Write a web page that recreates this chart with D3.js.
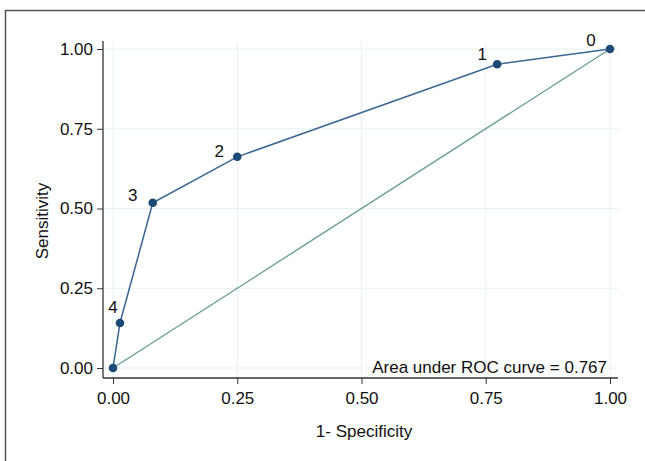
<!DOCTYPE html>
<html>
<head>
<meta charset="utf-8">
<script src="https://cdn.jsdelivr.net/npm/d3@7"></script>
<style>
  body { margin: 0; background: #fff; }
  text { font-family: "Liberation Sans", Arial, Helvetica, sans-serif; fill: #111; }
</style>
</head>
<body>
<div id="chart"></div>
<script>
// ROC curve points (cutpoint labels, 1-specificity, sensitivity)
const cutLabels = ["0", "1", "2", "3", "4", ""];
const fpr = [1.0, 0.773, 0.250, 0.080, 0.014, 0.0];
const tpr = [1.0, 0.952, 0.662, 0.518, 0.141, 0.0];
const tickValues = [0, 0.25, 0.5, 0.75, 1.0];
const aucText = "Area under ROC curve = 0.767";

const width = 645, height = 461;
const fontSize = "17px";
// label offsets (mostly 11 o'clock, label 4 sits above its point)
const labelOffsets = [[-19, -9], [-15, -10], [-18, -6], [-20, -8], [-7, -16], [0, 0]];

let svg = d3.select("#chart").append("svg")
  .attr("width", width)
  .attr("height", height);

// Outer frame
svg.append("path")
  .attr("d", "M5.5," + height + " V10.5 H" + width)
  .attr("fill", "none")
  .attr("stroke", "#555")
  .attr("stroke-width", 1.5);

let xScale = d3.scaleLinear().domain([0, 1]).range([113, 610]);
let yScale = d3.scaleLinear().domain([0, 1]).range([368, 49]);

// Grid lines
svg.append("g").selectAll("line.h")
  .data(tickValues).join("line")
  .attr("x1", 103).attr("x2", 618)
  .attr("y1", d => yScale(d)).attr("y2", d => yScale(d))
  .attr("stroke", "#e6f0f3").attr("stroke-width", 1);
svg.append("g").selectAll("line.v")
  .data(tickValues).join("line")
  .attr("x1", d => xScale(d)).attr("x2", d => xScale(d))
  .attr("y1", 42).attr("y2", 378)
  .attr("stroke", "#e6f0f3").attr("stroke-width", 1);

// Axes
let fmt = d3.format(".2f");
let yAxis = svg.append("g")
  .attr("transform", "translate(103,0)")
  .call(d3.axisLeft(yScale).tickValues(tickValues).tickFormat(fmt).tickSize(6).tickPadding(4));
yAxis.select(".domain").attr("d", "M0,41V378").attr("stroke", "#333").attr("stroke-width", 1.3);
yAxis.selectAll(".tick line").attr("stroke", "#333");
yAxis.selectAll("text").style("font-size", fontSize).attr("fill", "#111");

let xAxis = svg.append("g")
  .attr("transform", "translate(0,378)")
  .call(d3.axisBottom(xScale).tickValues(tickValues).tickFormat(fmt).tickSize(6).tickPadding(8));
xAxis.select(".domain").attr("d", "M103,0H618").attr("stroke", "#333").attr("stroke-width", 1.3);
xAxis.selectAll(".tick line").attr("stroke", "#333");
xAxis.selectAll("text").style("font-size", fontSize).attr("fill", "#111");

// Axis titles
svg.append("text")
  .attr("x", 364).attr("y", 437)
  .attr("text-anchor", "middle")
  .style("font-size", fontSize)
  .text("1- Specificity");
svg.append("text")
  .attr("transform", "translate(48,221) rotate(-90)")
  .attr("text-anchor", "middle")
  .style("font-size", fontSize)
  .text("Sensitivity");

// Reference diagonal
svg.append("line")
  .attr("x1", xScale(0)).attr("y1", yScale(0))
  .attr("x2", xScale(1)).attr("y2", yScale(1))
  .attr("stroke", "#6a9e94").attr("stroke-width", 1.4);

// ROC curve
let points = fpr.map((f, i) => ({x: f, y: tpr[i], label: cutLabels[i], off: labelOffsets[i]}));
let line = d3.line().x(d => xScale(d.x)).y(d => yScale(d.y));
svg.append("path")
  .attr("d", line(points))
  .attr("fill", "none")
  .attr("stroke", "#3a6593")
  .attr("stroke-width", 1.5);

svg.append("g").selectAll("circle")
  .data(points).join("circle")
  .attr("cx", d => xScale(d.x)).attr("cy", d => yScale(d.y))
  .attr("r", 4.3)
  .attr("fill", "#1b4a75");

svg.append("g").selectAll("text")
  .data(points).join("text")
  .attr("x", d => xScale(d.x) + d.off[0])
  .attr("y", d => yScale(d.y) + d.off[1] + 6)
  .attr("text-anchor", "middle")
  .style("font-size", fontSize)
  .text(d => d.label);

// AUC note
svg.append("text")
  .attr("x", 607).attr("y", 373)
  .attr("text-anchor", "end")
  .style("font-size", fontSize)
  .text(aucText);
</script>
</body>
</html>
